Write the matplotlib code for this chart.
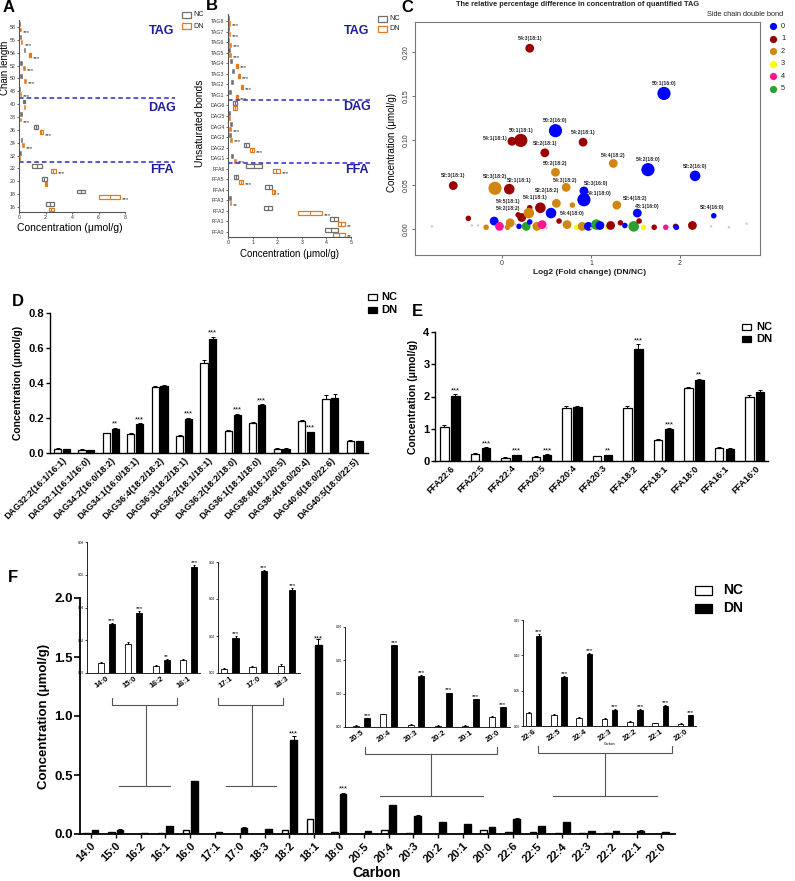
import numpy as np
import matplotlib
matplotlib.use('Agg')
import matplotlib.pyplot as plt
from matplotlib.patches import Rectangle
from matplotlib.lines import Line2D

# ---------------- DATA ----------------
# Panel A : chain length, NC / DN concentration range (umol/g)
chain_labels = ['58', '56', '54', '52', '50', '48', '40', '38', '36', '34', '32', '22', '20', '18', '16']
a_nc_lo = [0.02, 0.08, 0.35, 0.11, 0.13, 0.03, 0.33, 0.15, 1.15, 0.16, 0.06, 1.00, 1.70, 4.35, 2.05]
a_nc_hi = [0.06, 0.12, 0.45, 0.15, 0.17, 0.07, 0.45, 0.19, 1.40, 0.20, 0.10, 1.70, 2.10, 4.95, 2.65]
a_dn_lo = [0.05, 0.15, 0.75, 0.35, 0.42, 0.08, 0.35, 0.10, 1.55, 0.25, 0.03, 2.40, 1.95, 6.05, 2.25]
a_dn_hi = [0.10, 0.25, 0.90, 0.42, 0.50, 0.13, 0.45, 0.14, 1.80, 0.31, 0.07, 2.80, 2.15, 7.65, 2.65]
a_sig = ['***', '***', '***', '***', '***', '***', '', '***', '***', '***', '', '***', '', '***', '']

# Panel B : unsaturated bonds
bond_labels = ['TAG8', 'TAG7', 'TAG6', 'TAG5', 'TAG4', 'TAG3', 'TAG2', 'TAG1',
               'DAG6', 'DAG5', 'DAG4', 'DAG3', 'DAG2', 'DAG1',
               'FFA6', 'FFA5', 'FFA4', 'FFA3', 'FFA2', 'FFA1', 'FFA0']
b_nc_lo = [0.00, 0.01, 0.01, 0.03, 0.10, 0.17, 0.13, 0.06, 0.22, 0.02, 0.10, 0.05, 0.65, 0.13,
           0.73, 0.24, 1.50, 0.06, 1.45, 4.15, 3.95]
b_nc_hi = [0.03, 0.04, 0.04, 0.06, 0.14, 0.23, 0.17, 0.10, 0.36, 0.05, 0.14, 0.09, 0.85, 0.17,
           1.38, 0.40, 1.80, 0.10, 1.80, 4.45, 4.45]
b_dn_lo = [0.03, 0.04, 0.05, 0.06, 0.32, 0.41, 0.52, 0.32, 0.21, 0.02, 0.06, 0.11, 0.90, 0.24,
           1.83, 0.45, 1.80, 0.08, 2.85, 4.45, 4.27]
b_dn_hi = [0.07, 0.08, 0.09, 0.11, 0.40, 0.48, 0.60, 0.40, 0.38, 0.05, 0.10, 0.16, 1.05, 0.30,
           2.10, 0.60, 1.92, 0.12, 3.80, 4.75, 4.76]
b_sig = ['***'] * 8 + ['', '', '***', '***', '***', '***'] + ['***', '***', '*', '**', '***', '**', '**']

# Panel C : TAG bubble chart (log2 fold change, concentration, double-bond group, bubble size)
c_names = ['54:3(18:1)', '50:1(16:0)', '50:2(16:0)', '50:1(18:1)', '54:1(18:1)', '54:2(18:1)',
           '52:2(18:1)', '54:4(18:2)', '54:2(18:0)', '52:2(16:0)', '50:2(18:2)', '52:3(18:1)',
           '52:3(18:2)', '52:1(18:1)', '54:3(18:2)', '52:3(16:0)', '54:1(18:0)', '52:2(18:2)',
           '52:4(18:2)', '54:1(18:1)', '54:5(18:1)', '54:2(18:2)', '54:4(18:0)', '48:1(16:0)',
           '52:4(16:0)']
c_fc = [0.31, 1.82, 0.60, 0.21, 0.11, 0.91, 0.48, 1.25, 1.64, 2.17, 0.60, -0.55,
        -0.08, 0.08, 0.72, 0.92, 0.92, 0.61, 1.29, 0.43, 0.31, 0.30, 0.55, 1.52, 2.38]
c_conc = [0.204, 0.153, 0.111, 0.100, 0.099, 0.098, 0.086, 0.074, 0.067, 0.060, 0.064, 0.049,
          0.046, 0.045, 0.047, 0.043, 0.033, 0.029, 0.027, 0.024, 0.024, 0.018, 0.018, 0.018, 0.015]
c_group = [1, 0, 0, 1, 1, 1, 1, 2, 0, 0, 2, 1, 2, 1, 2, 0, 0, 2, 2, 1, 1, 2, 0, 0, 0]
c_size = [3, 4, 4, 4, 3, 3, 3, 3, 4, 3.5, 3, 3, 4, 3.5, 3, 3, 4, 3, 3, 3.5, 2, 3.5, 3.5, 3, 2]
# unlabeled TAG species (group 6 = not significant, grey)
c2_fc = [0.79, 0.18, -0.38, -0.34, -0.18, -0.09, -0.03, 0.09, 0.06, 0.19, 0.22, 0.27, 0.31, 0.39,
         0.45, 0.64, 0.73, 0.84, 0.90, 0.97, 1.06, 1.10, 1.19, 1.22, 1.33, 1.38, 1.48, 1.54, 1.59,
         1.71, 1.84, 1.95, 1.96, 2.14, -0.79, -0.27, 2.35, 2.75, 0.50, 1.00, 0.15, 2.55]
c2_conc = [0.027, 0.016, 0.012, 0.004, 0.002, 0.009, 0.003, 0.007, 0.002, 0.003, 0.013, 0.003,
           0.008, 0.003, 0.005, 0.009, 0.005, 0.002, 0.003, 0.003, 0.005, 0.004, 0.002, 0.004,
           0.007, 0.004, 0.003, 0.009, 0.002, 0.002, 0.002, 0.003, 0.002, 0.004, 0.003, 0.004,
           0.003, 0.006, 0.001, 0.001, 0.005, 0.002]
c2_group = [2, 1, 1, 6, 2, 0, 4, 2, 2, 0, 1, 5, 0, 2, 4, 1, 2, 3, 2, 0, 5, 0, 3, 1, 1, 0, 5, 1, 3,
            1, 4, 1, 0, 1, 6, 6, 6, 6, 6, 6, 6, 6]
c2_size = [2, 2, 2, 1, 2, 3, 3, 3, 2, 2, 3, 3, 2, 3, 3, 2, 3, 2, 3, 3, 3.5, 3, 2, 3, 2, 2, 3.5,
           2, 2, 2, 2, 2, 2, 3, 1, 1, 1, 1, 1, 1, 1, 1]
bond_groups = ['0', '1', '2', '3', '4', '5']

# Panel D : DAG species
d_labels = ['DAG32:2(16:1/16:1)', 'DAG32:1(16:1/16:0)', 'DAG34:2(16:0/18:2)', 'DAG34:1(16:0/18:1)',
            'DAG36:4(18:2/18:2)', 'DAG36:3(18:2/18:1)', 'DAG36:2(18:1/18:1)', 'DAG36:2(18:2/18:0)',
            'DAG36:1(18:1/18:0)', 'DAG38:6(18:1/20:5)', 'DAG38:4(18:0/20:4)', 'DAG40:6(18:0/22:6)',
            'DAG40:5(18:0/22:5)']
d_nc = [0.025, 0.020, 0.113, 0.108, 0.375, 0.098, 0.515, 0.128, 0.170, 0.025, 0.185, 0.310, 0.070]
d_dn = [0.022, 0.018, 0.140, 0.165, 0.385, 0.195, 0.652, 0.220, 0.273, 0.025, 0.118, 0.315, 0.068]
d_nc_err = [0.002, 0.002, 0.004, 0.004, 0.010, 0.003, 0.015, 0.004, 0.005, 0.002, 0.004, 0.022, 0.004]
d_dn_err = [0.002, 0.002, 0.005, 0.005, 0.006, 0.006, 0.013, 0.005, 0.006, 0.002, 0.004, 0.020, 0.003]
d_sig = ['', '', '**', '***', '', '***', '***', '***', '***', '', '***', '', '']

# Panel E : FFA species
e_labels = ['FFA22:6', 'FFA22:5', 'FFA22:4', 'FFA20:5', 'FFA20:4', 'FFA20:3', 'FFA18:2', 'FFA18:1',
            'FFA18:0', 'FFA16:1', 'FFA16:0']
e_nc = [1.05, 0.22, 0.10, 0.13, 1.65, 0.14, 1.65, 0.65, 2.25, 0.41, 2.00]
e_dn = [2.02, 0.40, 0.18, 0.20, 1.67, 0.19, 3.48, 0.98, 2.50, 0.37, 2.14]
e_nc_err = [0.08, 0.02, 0.01, 0.01, 0.04, 0.01, 0.05, 0.04, 0.05, 0.02, 0.05]
e_dn_err = [0.05, 0.02, 0.01, 0.01, 0.03, 0.01, 0.15, 0.04, 0.05, 0.02, 0.05]
e_sig = ['***', '***', '***', '***', '', '**', '***', '***', '**', '', '']

# Panel F : fatty acids by carbon
f_labels = ['14:0', '15:0', '16:2', '16:1', '16:0', '17:1', '17:0', '18:3', '18:2', '18:1', '18:0',
            '20:5', '20:4', '20:3', '20:2', '20:1', '20:0', '22:6', '22:5', '22:4', '22:3', '22:2',
            '22:1', '22:0']
f_nc = [0.006, 0.018, 0.004, 0.008, 0.035, 0.002, 0.003, 0.004, 0.030, 0.127, 0.020, 0.004,
        0.038, 0.006, 0.004, 0.004, 0.031, 0.018, 0.016, 0.012, 0.010, 0.006, 0.004, 0.003]
f_dn = [0.030, 0.0365, 0.008, 0.065, 0.448, 0.019, 0.055, 0.045, 0.800, 1.600, 0.336, 0.026,
        0.245, 0.153, 0.102, 0.083, 0.059, 0.128, 0.069, 0.102, 0.023, 0.023, 0.029, 0.015]
f_err = [0.001, 0.002, 0.001, 0.001, 0.004, 0.001, 0.001, 0.001, 0.03, 0.05, 0.008, 0.001,
         0.004, 0.005, 0.003, 0.003, 0.003, 0.004, 0.003, 0.003, 0.001, 0.001, 0.001, 0.001]
f_sig = ['***', '***', '**', '***', '', '***', '***', '***', '***', '***', '***', '***', '***',
         '***', '***', '***', '***', '***', '***', '***', '***', '***', '***', '***']
inset_groups = [[0, 1, 2, 3], [5, 6, 7], [11, 12, 13, 14, 15, 16], [17, 18, 19, 20, 21, 22, 23]]
inset_ymax = [0.08, 0.06, 0.3, 0.15]
inset_ystep = [0.02, 0.02, 0.1, 0.05]

# ---------------- FIGURE ----------------
plt.rcParams['font.family'] = ['Liberation Sans', 'DejaVu Sans']
W, H = 795, 881
fig = plt.figure(figsize=(W / 100, H / 100), dpi=100)


def ax_px(x0, y0, x1, y1):
    return fig.add_axes([x0 / W, 1 - y1 / H, (x1 - x0) / W, (y1 - y0) / H])


def ftext(x, y, s, **kw):
    fig.text(x / W, 1 - y / H, s, **kw)


def fline(xs, ys, **kw):
    fig.add_artist(Line2D([x / W for x in xs], [1 - y / H for y in ys], **kw))


GRAY = '#6f6f6f'
ORNG = '#E2791E'
NAVY = '#1c1c9c'


def range_boxes(ax, lo, hi, sig, color, yoff, hgt, minw, gap, fs):
    for i, (l, h) in enumerate(zip(lo, hi)):
        yc = i + yoff
        w = h - l
        if w < minw:
            c = (l + h) / 2
            ax.add_patch(Rectangle((c - minw / 2, yc - hgt / 2), minw, hgt, fc=color, ec=color, lw=0.4))
            right = c + minw / 2
        else:
            ax.add_patch(Rectangle((l, yc - hgt / 2), w, hgt, fc='white', ec=color, lw=0.9))
            ax.plot([(l + h) / 2] * 2, [yc - hgt / 2, yc + hgt / 2], color=color, lw=0.8)
            right = h
        if sig is not None and sig[i]:
            ax.text(right + gap, yc + 0.22, sig[i], fontsize=fs, color='#333333', ha='left', va='center')


def small_legend(x, y, dy):
    for k, (lab, col) in enumerate([('NC', GRAY), ('DN', ORNG)]):
        yy = y + k * dy
        fig.add_artist(Rectangle(((x) / W, 1 - (yy + 2.5) / H), 9 / W, 5 / H, fc='white', ec=col, lw=0.9))
        ftext(x + 11, yy, lab, fontsize=5.2, va='center', ha='left', color='#222222')


# ---- Panel A ----
axA = ax_px(19, 20, 175, 212)
nA = len(chain_labels)
axA.set_ylim(14.39, -0.544)
axA.set_xlim(0, 11.77)
range_boxes(axA, a_nc_lo, a_nc_hi, None, GRAY, -0.2, 0.3, 0.12, 0.15, 4.5)
range_boxes(axA, a_dn_lo, a_dn_hi, a_sig, ORNG, 0.2, 0.3, 0.12, 0.15, 4.5)
axA.set_yticks(range(nA))
axA.set_yticklabels(chain_labels, fontsize=3.8)
axA.set_xticks([0, 2, 4, 6, 8])
axA.set_xticklabels(['0', '2', '4', '6', '8'], fontsize=3.8)
for s in ['top', 'right']:
    axA.spines[s].set_visible(False)
axA.spines['bottom'].set_bounds(0, 8)
axA.spines['left'].set_color('#555555')
axA.spines['bottom'].set_color('#555555')
axA.tick_params(length=1.5, width=0.5, pad=1, colors='#333333')
axA.patch.set_alpha(0)
for yl in [5.5, 10.5]:
    axA.plot([0, 11.77], [yl, yl], ls=(0, (3, 2)), color='#2a2ad0', lw=1.1, clip_on=False)
ftext(70, 228, 'Concentration (μmol/g)', fontsize=7.5, ha='center', va='center')
ftext(5, 68, 'Chain length', fontsize=7, rotation=90, ha='center', va='center')
ftext(162, 31, 'TAG', fontsize=9, color=NAVY, fontweight='bold', ha='center', va='center')
ftext(162, 108, 'DAG', fontsize=9, color=NAVY, fontweight='bold', ha='center', va='center')
ftext(162, 170, 'FFA', fontsize=9, color=NAVY, fontweight='bold', ha='center', va='center')
small_legend(182, 15, 11)
ftext(3, 8, 'A', fontsize=12, fontweight='bold', ha='left', va='center')

# ---- Panel B ----
axB = ax_px(228, 14, 372, 237)
nB = len(bond_labels)
axB.set_ylim(20.47, -0.66)
axB.set_xlim(0, 5.85)
range_boxes(axB, b_nc_lo, b_nc_hi, None, GRAY, -0.24, 0.38, 0.07, 0.08, 4.5)
range_boxes(axB, b_dn_lo, b_dn_hi, b_sig, ORNG, 0.24, 0.38, 0.07, 0.08, 4.5)
axB.set_yticks(range(nB))
axB.set_yticklabels(bond_labels, fontsize=3.8)
axB.set_xticks(range(6))
axB.set_xticklabels([str(i) for i in range(6)], fontsize=3.8)
for s in ['top', 'right']:
    axB.spines[s].set_visible(False)
axB.spines['bottom'].set_bounds(0, 5)
axB.spines['left'].set_color('#555555')
axB.spines['bottom'].set_color('#555555')
axB.tick_params(length=1.5, width=0.5, pad=1, colors='#333333')
axB.patch.set_alpha(0)
for yl in [7.5, 13.5]:
    axB.plot([0, 5.85], [yl, yl], ls=(0, (3, 2)), color='#2a2ad0', lw=1.1, clip_on=False)
ftext(290, 254, 'Concentration (μmol/g)', fontsize=7, ha='center', va='center')
ftext(200, 123, 'Unsaturated bonds', fontsize=7.5, rotation=90, ha='center', va='center')
ftext(357, 31, 'TAG', fontsize=9, color=NAVY, fontweight='bold', ha='center', va='center')
ftext(357, 107, 'DAG', fontsize=9, color=NAVY, fontweight='bold', ha='center', va='center')
ftext(357, 170, 'FFA', fontsize=9, color=NAVY, fontweight='bold', ha='center', va='center')
small_legend(378, 19, 10)
ftext(206, 6, 'B', fontsize=12, fontweight='bold', ha='left', va='center')

# ---- Panel C ----
CCOL = ['#0000FF', '#9B0000', '#D1870F', '#FFFF00', '#FF1493', '#2CA02C', '#C8C8C8']
SZ = {1: 3, 2: 16, 3: 40, 3.5: 58, 4: 90}
axC = ax_px(415, 22, 760, 255)
axC.set_xlim(-0.98, 2.90)
axC.set_ylim(-0.0293, 0.2336)
axC.scatter(c2_fc, c2_conc, s=[SZ[v] for v in c2_size], c=[CCOL[g] for g in c2_group],
            edgecolors='none', zorder=2)
axC.scatter(c_fc, c_conc, s=[SZ[v] for v in c_size], c=[CCOL[g] for g in c_group],
            edgecolors='none', zorder=3)
# label offsets (points) and alignment
lab_off = [(0, 7), (0, 7), (0, 7), (0, 7), (-3, 2, 'right'), (0, 7), (0, 6.5), (0, 6), (0, 7),
           (0, 7), (0, 6), (0, 7), (0, 8.5), (7, 6), (-1, 5), (9, 5), (2, 4.5, 'left'), (-7, 9.5),
           (13, 5), (-4, 7.5), (-7, 4.5, 'right'), (-6, 3, 'right'), (6, 0, 'left'), (7, 4.5), (-1, 6)]
for i, name in enumerate(c_names):
    o = lab_off[i]
    ha = o[2] if len(o) > 2 else 'center'
    axC.annotate(name, (c_fc[i], c_conc[i]), xytext=(o[0], o[1]), textcoords='offset points',
                 fontsize=3.7, fontweight='bold', ha=ha, va='center', color='#262626', zorder=5)
axC.set_xticks([0, 1, 2])
axC.set_xticklabels(['0', '1', '2'], fontsize=5)
axC.set_yticks([0, 0.05, 0.10, 0.15, 0.20])
axC.set_yticklabels(['0.00', '0.05', '0.10', '0.15', '0.20'], fontsize=5, rotation=90, va='center')
for s in axC.spines.values():
    s.set_color('#777777')
    s.set_linewidth(0.8)
axC.tick_params(length=2, width=0.5, pad=1.5, colors='#333333')
ftext(590, 273, 'Log2 (Fold change) (DN/NC)', fontsize=6, ha='center', va='center', fontweight='bold',
      color='#222222')
ftext(392, 143, 'Concentration (μmol/g)', fontsize=7, rotation=90, ha='center', va='center')
ftext(578, 5, 'The relative percentage difference in concentration of quantified TAG', fontsize=5.3,
      fontweight='bold', ha='center', va='center', color='#222222')
ftext(783, 15, 'Side chain double bond', fontsize=5.3, ha='right', va='center', color='#222222')
for k, lab in enumerate(bond_groups):
    yy = 26 + k * 12.6
    fig.add_artist(Line2D([773 / W], [1 - yy / H], marker='o', ms=5.2, color=CCOL[k], mec='none'))
    ftext(781, yy, lab, fontsize=5.3, ha='left', va='center', color='#222222')
ftext(407, 8, 'C', fontsize=12, fontweight='bold', ha='center', va='center')


# ---- bar chart helper ----
def bar_pair(ax, nc, dn, nc_err, dn_err, sig, width, off, star_fs, lw=0.9, capsize=1.5, gap=0.0):
    x = np.arange(len(nc))
    ax.bar(x - off, nc, width, color='white', edgecolor='black', linewidth=lw, zorder=2)
    ax.bar(x + off, dn, width, color='black', edgecolor='black', linewidth=lw, zorder=2)
    if nc_err is not None:
        ax.errorbar(x - off, nc, yerr=[np.zeros(len(nc)), nc_err], fmt='none', ecolor='black',
                    elinewidth=0.7, capsize=capsize, capthick=0.7, zorder=3)
        ax.errorbar(x + off, dn, yerr=[np.zeros(len(dn)), dn_err], fmt='none', ecolor='black',
                    elinewidth=0.7, capsize=capsize, capthick=0.7, zorder=3)
    if sig is not None:
        for i in range(len(dn)):
            if sig[i]:
                top = dn[i] + (dn_err[i] if dn_err is not None else 0) + gap
                ax.text(x[i] + off, top, sig[i], fontsize=star_fs, ha='center', va='bottom')


def prism_axes(ax, lw=1.0):
    for s in ['top', 'right']:
        ax.spines[s].set_visible(False)
    ax.spines['left'].set_linewidth(lw)
    ax.spines['bottom'].set_linewidth(lw)
    ax.patch.set_alpha(0)


def bar_legend(x, y, dy, fs, bw, bh, tx):
    for k, (lab, fc) in enumerate([('NC', 'white'), ('DN', 'black')]):
        yy = y + k * dy
        fig.add_artist(Rectangle((x / W, 1 - (yy + bh / 2) / H), bw / W, bh / H, fc=fc, ec='black', lw=0.9))
        ftext(x + bw + tx, yy, lab, fontsize=fs, fontweight='bold', ha='left', va='center')


# ---- Panel D ----
axD = ax_px(50, 313, 368, 453)
bar_pair(axD, d_nc, d_dn, d_nc_err, d_dn_err, d_sig, 0.29, 0.18, 5.5)
axD.set_xlim(-0.49, 12.54)
axD.set_ylim(0, 0.8)
axD.set_yticks([0, 0.2, 0.4, 0.6, 0.8])
axD.set_yticklabels(['0.0', '0.2', '0.4', '0.6', '0.8'], fontsize=8, fontweight='bold')
axD.set_xticks(range(len(d_labels)))
axD.set_xticklabels(d_labels, rotation=45, ha='right', rotation_mode='anchor', fontsize=6.5,
                    fontweight='bold')
axD.tick_params(axis='y', length=3, width=1, pad=1)
axD.tick_params(axis='x', length=0, pad=2)
prism_axes(axD)
axD.set_ylabel('Concentration (μmol/g)', fontsize=7.5, fontweight='bold', labelpad=4)
bar_legend(368, 297, 13, 8, 9, 6, 4)
ftext(18, 302, 'D', fontsize=12, fontweight='bold', ha='center', va='center')

# ---- Panel E ----
axE = ax_px(435, 332, 768, 461)
bar_pair(axE, e_nc, e_dn, e_nc_err, e_dn_err, e_sig, 0.27, 0.18, 5.5)
axE.set_xlim(-0.49, 10.43)
axE.set_ylim(0, 4)
axE.set_yticks([0, 1, 2, 3, 4])
axE.set_yticklabels(['0', '1', '2', '3', '4'], fontsize=8, fontweight='bold')
axE.set_xticks(range(len(e_labels)))
axE.set_xticklabels(e_labels, rotation=45, ha='right', rotation_mode='anchor', fontsize=6.5,
                    fontweight='bold')
axE.tick_params(axis='y', length=3, width=1, pad=1)
axE.tick_params(axis='x', length=0, pad=2)
prism_axes(axE)
axE.set_ylabel('Concentration (μmol/g)', fontsize=7.5, fontweight='bold', labelpad=4)
bar_legend(742, 327, 12, 8, 9, 6, 5)
ftext(417, 312, 'E', fontsize=12, fontweight='bold', ha='center', va='center')

# ---- Panel F ----
axF = ax_px(80, 598, 675, 834)
main_idx = np.arange(len(f_labels))
f_main_sig = [f_sig[i] if i in (8, 9, 10) else '' for i in main_idx]
bar_pair(axF, f_nc, f_dn, None, None, f_main_sig, 0.27, 0.17, 5.5, lw=1.0, gap=0.02)
axF.errorbar(main_idx + 0.17, f_dn, yerr=[np.zeros(len(f_dn)), f_err], fmt='none', ecolor='black',
             elinewidth=0.7, capsize=1.5, capthick=0.7, zorder=3)
axF.set_xlim(-0.44, 23.55)
axF.set_ylim(0, 2.0)
axF.set_yticks([0, 0.5, 1.0, 1.5, 2.0])
axF.set_yticklabels(['0.0', '0.5', '1.0', '1.5', '2.0'], fontsize=9.5, fontweight='bold')
axF.set_xticks(main_idx)
axF.set_xticklabels(f_labels, rotation=45, ha='right', rotation_mode='anchor', fontsize=8,
                    fontweight='bold')
axF.tick_params(axis='y', length=4, width=1.2, pad=1)
axF.tick_params(axis='x', length=3, width=1, pad=2)
prism_axes(axF, 1.3)
axF.set_ylabel('Concentration (μmol/g)', fontsize=9.5, fontweight='bold', labelpad=3)
ftext(377, 873, 'Carbon', fontsize=10, fontweight='bold', ha='center', va='center')
bar_legend(695, 590, 18, 10, 17, 9, 11)
ftext(13, 577, 'F', fontsize=12, fontweight='bold', ha='center', va='center')

inset_boxes = [(87, 542, 200, 673), (218, 562, 300, 673), (345, 627, 510, 727), (523, 620, 696, 726)]
inset_xlims = [(-0.71, 3.42), (-0.42, 2.48), (-0.61, 5.46), (-0.42, 6.41)]
for k, grp in enumerate(inset_groups):
    ax = ax_px(*inset_boxes[k])
    nc = [f_nc[i] for i in grp]
    dn = [f_dn[i] for i in grp]
    er = [f_err[i] * 0.3 + 0.0005 for i in grp]
    bar_pair(ax, nc, dn, er, er, [f_sig[i] for i in grp], 0.22, 0.2, 4.5, lw=0.6, capsize=1.0)
    ax.set_xlim(*inset_xlims[k])
    ax.set_ylim(0, inset_ymax[k])
    ticks = np.arange(0, inset_ymax[k] + 1e-9, inset_ystep[k])
    ax.set_yticks(ticks)
    ax.set_yticklabels(['%.2f' % t for t in ticks], fontsize=2.3)
    ax.set_xticks(range(len(grp)))
    ax.set_xticklabels([f_labels[i] for i in grp], rotation=35, ha='right', rotation_mode='anchor',
                       fontsize=5.5, fontweight='bold')
    ax.tick_params(axis='y', length=1.5, width=0.5, pad=0.5)
    ax.tick_params(axis='x', length=0, pad=1.5)
    prism_axes(ax, 0.6)
ftext(610, 744, 'Carbon', fontsize=2.5, ha='center', va='center')

# brackets connecting insets to the main chart
brackets = [(112, 177, 705, 146, 786, 119, 170), (218, 283, 705, 252, 786, 226, 276),
            (365, 497, 754, 431, 796, 380, 483), (538, 672, 753, 605, 796, 553, 657)]
for (bx0, bx1, by, sx, sy, ux0, ux1) in brackets:
    kw = dict(color='#555555', lw=0.8)
    fline([bx0, bx0, bx1, bx1], [by - 7, by, by, by - 7], **kw)
    fline([sx, sx], [by, sy], **kw)
    fline([ux0, ux1], [sy, sy], **kw)

fig.savefig('out.png', dpi=100)
